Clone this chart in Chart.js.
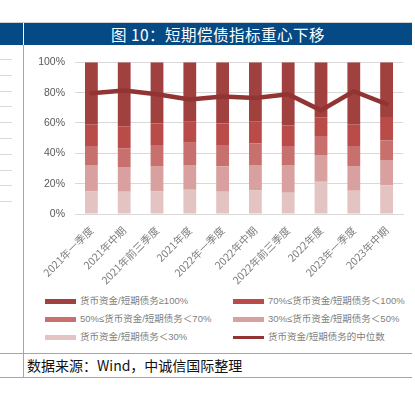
<!DOCTYPE html>
<html>
<head>
<meta charset="utf-8">
<script src="https://cdn.jsdelivr.net/npm/chart.js@4/dist/chart.umd.min.js"></script>
<style>
    body { margin: 0; background: #fff; }
    #wrap { position: relative; width: 415px; height: 394px; overflow: hidden; font-family: "Noto Sans CJK SC", "Liberation Sans", sans-serif; }
    .hl { position: absolute; height: 1px; background: #A6A6A6; }
    .vl { position: absolute; width: 1px; background: #A6A6A6; }
    #titlebar { position: absolute; left: 0; top: 23px; width: 412px; height: 22px; background: #064A85; }
    #title { position: absolute; left: 24px; top: 23px; width: 388px; height: 22px; line-height: 22px; text-align: center; color: #fff; font-size: 15.5px; letter-spacing: 0.5px; }
    #chart { position: absolute; left: 24px; top: 46px; }
    .lg { position: absolute; font-size: 9.5px; color: #808080; white-space: nowrap; font-family: "Liberation Sans", "Noto Sans CJK SC", sans-serif; }
    .lg span { position: absolute; left: 0; width: 31px; }
    .lg b { position: absolute; left: 35px; font-weight: normal; line-height: 12px; top: -6px; }
    #source { position: absolute; left: 27px; top: 354px; line-height: 22px; font-size: 14px; color: #111; }
    .side { position: absolute; left: 0; width: 12px; height: 1px; background: #D9D9D9; }
</style>
</head>
<body>
<div id="wrap">
    <div class="hl" style="left:0;top:22px;width:412px;background:#D0D0D0"></div>
    <div id="titlebar"></div>
    <div style="position:absolute;left:23px;top:23px;width:1px;height:22px;background:#fff"></div>
    <div id="title">图 10：短期偿债指标重心下移</div>
    <div class="vl" style="left:23px;top:45px;height:333px"></div>
    <div class="hl" style="left:0;top:353px;width:412px"></div>
    <div class="hl" style="left:0;top:377px;width:412px"></div>
    <div id="side"></div>
    <canvas id="chart" width="388" height="244"></canvas>
    <div id="legend"></div>
    <div id="source">数据来源：Wind，中诚信国际整理</div>
</div>
<script>
// categories (report periods)
const categories = ['2021年一季度', '2021年中期', '2021年前三季度', '2021年度', '2022年一季度',
    '2022年中期', '2022年前三季度', '2022年度', '2023年一季度', '2023年中期'];

// share of issuers in each cash / short-term-debt band, %
const below30 = [14.9, 14.6, 14.9, 16.0, 14.6, 15.5, 14.0, 21.2, 15.3, 19.0];
const from30to50 = [17.4, 16.4, 16.8, 16.3, 16.9, 16.8, 18.3, 17.7, 16.4, 16.6];
const from50to70 = [12.5, 12.3, 13.8, 14.7, 14.0, 14.3, 12.5, 12.5, 13.1, 12.9];
const from70to100 = [14.3, 14.5, 14.2, 13.8, 14.2, 14.2, 13.6, 12.3, 14.3, 15.4];
const above100 = [40.9, 42.2, 40.3, 39.2, 40.3, 39.2, 41.6, 36.3, 40.9, 36.1];

// median of cash / short-term debt, %
const median = [79.6, 81.4, 79.0, 75.5, 77.5, 76.4, 79.0, 68.3, 80.9, 72.4];

const yTickLabels = ['0%', '20%', '40%', '60%', '80%', '100%'];

const barNames = ['货币资金/短期债务＜30%', '30%≤货币资金/短期债务＜50%', '50%≤货币资金/短期债务＜70%',
    '70%≤货币资金/短期债务＜100%', '货币资金/短期债务≥100%'];
const lineName = '货币资金/短期债务的中位数';
const barColors = ['#E4C3C3', '#D8A09F', '#C8706D', '#B94B48', '#A0413F'];
const lineColor = '#923433';

// left edge: stub of the neighbouring panel
for (let i = 0; i < 10; i++) {
    let d = document.createElement('div');
    d.className = 'side';
    d.style.top = (59 + i * 15.8) + 'px';
    document.getElementById('side').appendChild(d);
}

const barSeries = [below30, from30to50, from50to70, from70to100, above100];
let datasets = barSeries.map((s, i) => ({
    type: 'bar',
    label: barNames[i],
    data: s,
    backgroundColor: barColors[i],
    stack: 'bands',
    order: 1,
    categoryPercentage: 1,
    barPercentage: 0.39
}));
datasets.push({
    type: 'line',
    label: lineName,
    data: median,
    borderColor: lineColor,
    borderWidth: 4.5,
    pointRadius: 0,
    tension: 0,
    borderJoinStyle: 'round',
    borderCapStyle: 'round',
    stack: 'median',
    order: 0
});

new Chart(document.getElementById('chart'), {
    data: { labels: categories, datasets: datasets },
    options: {
        responsive: false,
        animation: false,
        layout: { padding: { left: 0, right: 9, top: 16, bottom: 4 } },
        plugins: { legend: { display: false }, tooltip: { enabled: false } },
        scales: {
            x: {
                stacked: true,
                grid: { display: false },
                border: { color: '#D9D9D9' },
                ticks: {
                    minRotation: 45, maxRotation: 45, autoSkip: false,
                    color: '#7F7F7F', padding: 2,
                    font: { family: 'Noto Sans CJK SC', size: 10.5 }
                },
                afterFit: s => { s.height = 72; }
            },
            y: {
                stacked: true,
                min: 0, max: 100,
                grid: { color: '#D9D9D9', drawTicks: false },
                border: { display: false },
                ticks: {
                    stepSize: 20, padding: 10, color: '#595959',
                    font: { family: 'Liberation Sans', size: 10.5 },
                    callback: (v, i) => yTickLabels[i]
                },
                afterFit: s => { s.width = 51; }
            }
        }
    }
});

// legend, two columns: same order as the original picture
const legendItems = [
    [barNames[4], barColors[4], 5], [barNames[3], barColors[3], 5],
    [barNames[2], barColors[2], 5], [barNames[1], barColors[1], 5],
    [barNames[0], barColors[0], 5], [lineName, lineColor, 3]
];
const lg = document.getElementById('legend');
legendItems.forEach((it, i) => {
    let d = document.createElement('div');
    d.className = 'lg';
    d.style.left = (i % 2 ? 233 : 45) + 'px';
    d.style.top = (301 + Math.floor(i / 2) * 18.2) + 'px';
    d.innerHTML = '<span style="background:' + it[1] + ';height:' + it[2] + 'px;top:' + (-it[2] / 2) + 'px"></span><b>' + it[0] + '</b>';
    lg.appendChild(d);
});
</script>
</body>
</html>
